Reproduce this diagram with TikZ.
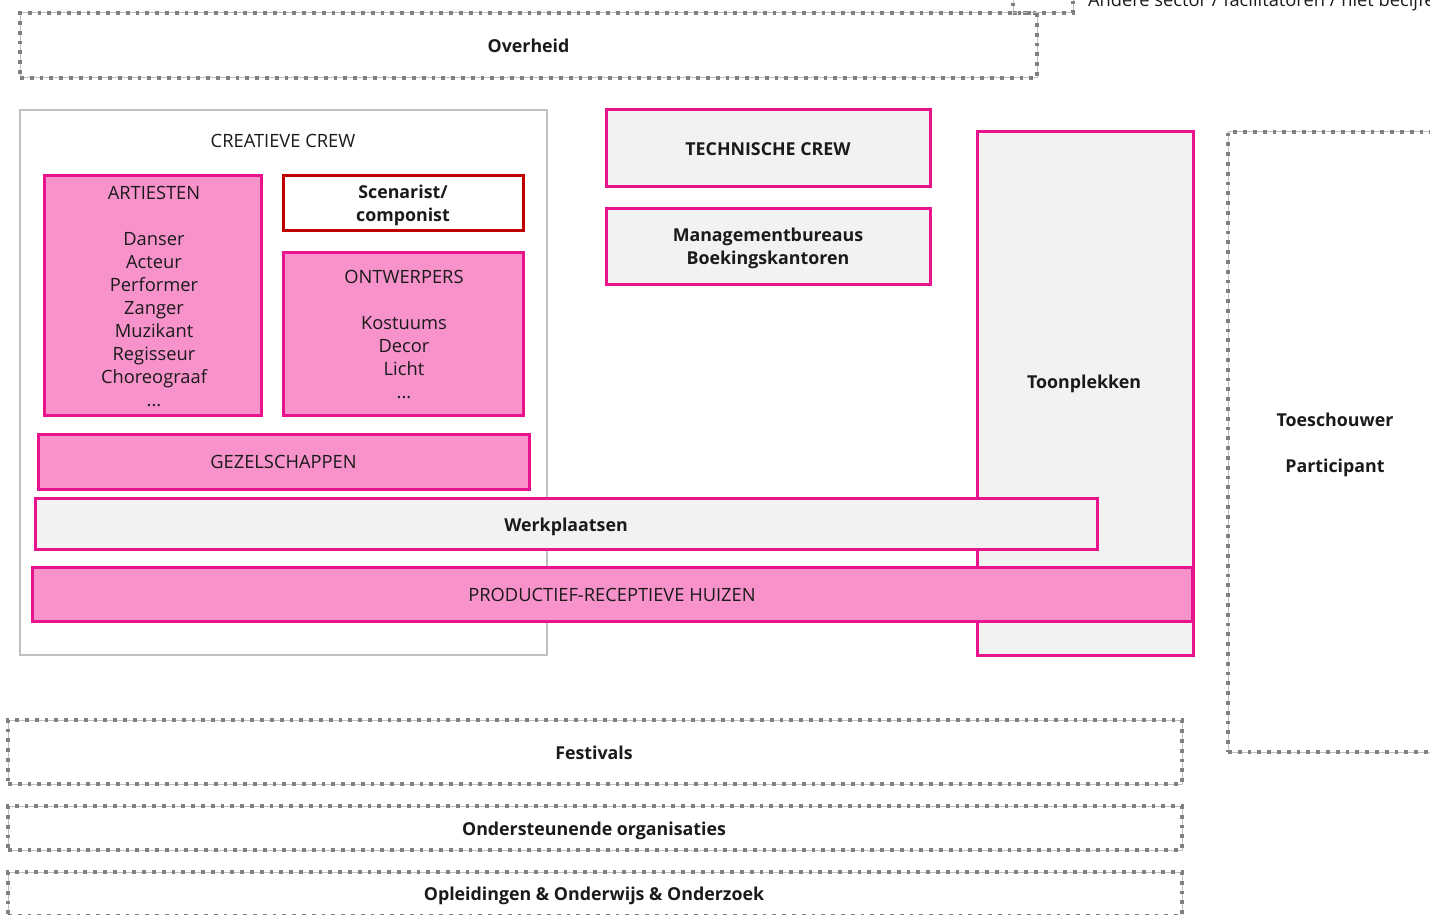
\documentclass[tikz,border=0pt]{standalone}
\usepackage{fontspec}
\setmainfont{Open Sans}
\definecolor{pinkfill}{HTML}{F792CA}
\definecolor{magenta}{HTML}{E8138D}
\definecolor{lightfill}{HTML}{F2F2F2}
\definecolor{crewgray}{HTML}{BFBFBF}
\definecolor{darkred}{HTML}{C00000}
\definecolor{dashgray}{HTML}{808080}
\definecolor{txt}{HTML}{1A1A1A}
\newcommand\mylines[1]{\begin{tabular}[t]{@{}c@{}}#1\end{tabular}}
\renewcommand\arraystretch{1}
\tikzset{
  base/.style={rectangle, inner sep=0pt, outer sep=0pt},
  regtxt/.style={base, text=txt, anchor=base, font=\fontsize{18.3}{23}\selectfont},
  boldtxt/.style={base, text=txt, anchor=base, font=\fontsize{17.8}{23}\selectfont\bfseries},
  pinkbox/.style={base, fill=pinkfill, draw=magenta, line width=3pt},
  graybox/.style={base, fill=lightfill, draw=magenta, line width=3pt},
  redbox/.style={base, fill=white, draw=darkred, line width=3pt},
  crewbox/.style={base, fill=white, draw=crewgray, line width=2.5pt},
  dashbox/.style={base, draw=dashgray, line width=3.6pt,
    dash pattern=on 3.8pt off 6pt,
    preaction={draw=crewgray, line width=1pt, solid}},
}
\begin{document}
\begin{tikzpicture}[x=1pt,y=-1pt]
\useasboundingbox (0,0) rectangle (1430,915);
\clip (0,0) rectangle (1430,915);
% top outer boxes
\node[dashbox, minimum width=60, minimum height=53] (andere) at (1043,-13.5) {};
\node[regtxt, anchor=base west] (anderetxt) at (1088,6.5) {Andere sector / facilitatoren / niet becijferd};
\node[dashbox, minimum width=1017, minimum height=65] (overheid) at (528.5,45.5) {};
\node[boldtxt] (overheidtxt) at (528.5,52.5) {Overheid};
% creatieve crew
\node[crewbox, minimum width=527, minimum height=545] (crew) at (283.5,382.5) {};
\node[regtxt] (crewtitle) at (283,147.5) {CREATIEVE CREW};
\node[pinkbox, minimum width=217, minimum height=239] (artiesten) at (152.5,295.5) {};
\node[regtxt] (artiestentxt) at (154,199.5) {\mylines{ARTIESTEN\\ \\Danser\\Acteur\\Performer\\Zanger\\Muzikant\\Regisseur\\Choreograaf\\...}};
\node[redbox, minimum width=240, minimum height=54] (scenarist) at (403,203) {};
\node[boldtxt] (scenaristtxt) at (403,198.5) {\mylines{Scenarist/\\componist}};
\node[pinkbox, minimum width=240, minimum height=163] (ontwerpers) at (403,333.5) {};
\node[regtxt] (ontwerperstxt) at (404,283) {\mylines{ONTWERPERS\\ \\Kostuums\\Decor\\Licht\\...}};
\node[pinkbox, minimum width=491, minimum height=55] (gezelschappen) at (283.5,461.5) {};
\node[regtxt] (gezelschappentxt) at (283.5,468.5) {GEZELSCHAPPEN};
% technical / management
\node[graybox, minimum width=324, minimum height=76] (technische) at (768,148) {};
\node[boldtxt] (technischetxt) at (768,155.5) {TECHNISCHE CREW};
\node[graybox, minimum width=324, minimum height=76] (management) at (768,246) {};
\node[boldtxt] (managementtxt) at (768,241.5) {\mylines{Managementbureaus\\Boekingskantoren}};
% toonplekken
\node[graybox, minimum width=216, minimum height=523] (toonplekken) at (1085,393.5) {};
\node[boldtxt] (toontxt) at (1084,388.5) {Toonplekken};
% bars
\node[graybox, minimum width=1062, minimum height=51] (werkplaatsen) at (566,523.5) {};
\node[boldtxt] (werkplaatsentxt) at (566,531.5) {Werkplaatsen};
\node[pinkbox, minimum width=1160, minimum height=54] (productief) at (612,594) {};
\node[regtxt] (productieftxt) at (612,601.5) {PRODUCTIEF-RECEPTIEVE HUIZEN};
% toeschouwer
\node[dashbox, minimum width=214, minimum height=620] (toeschouwer) at (1335,442) {};
\node[boldtxt] (toeschouwertxt) at (1335,426.5) {\mylines{Toeschouwer\\ \\Participant}};
% bottom
\node[dashbox, minimum width=1174, minimum height=64] (festivals) at (595,752) {};
\node[boldtxt] (festivalstxt) at (594,759.5) {Festivals};
\node[dashbox, minimum width=1174, minimum height=44] (ondersteunende) at (595,828) {};
\node[boldtxt] (ondersteunendetxt) at (594,835.5) {Ondersteunende organisaties};
\node[dashbox, minimum width=1174, minimum height=44] (opleidingen) at (595,894) {};
\node[boldtxt] (opleidingentxt) at (594,900.5) {Opleidingen \& Onderwijs \& Onderzoek};
\end{tikzpicture}
\end{document}
